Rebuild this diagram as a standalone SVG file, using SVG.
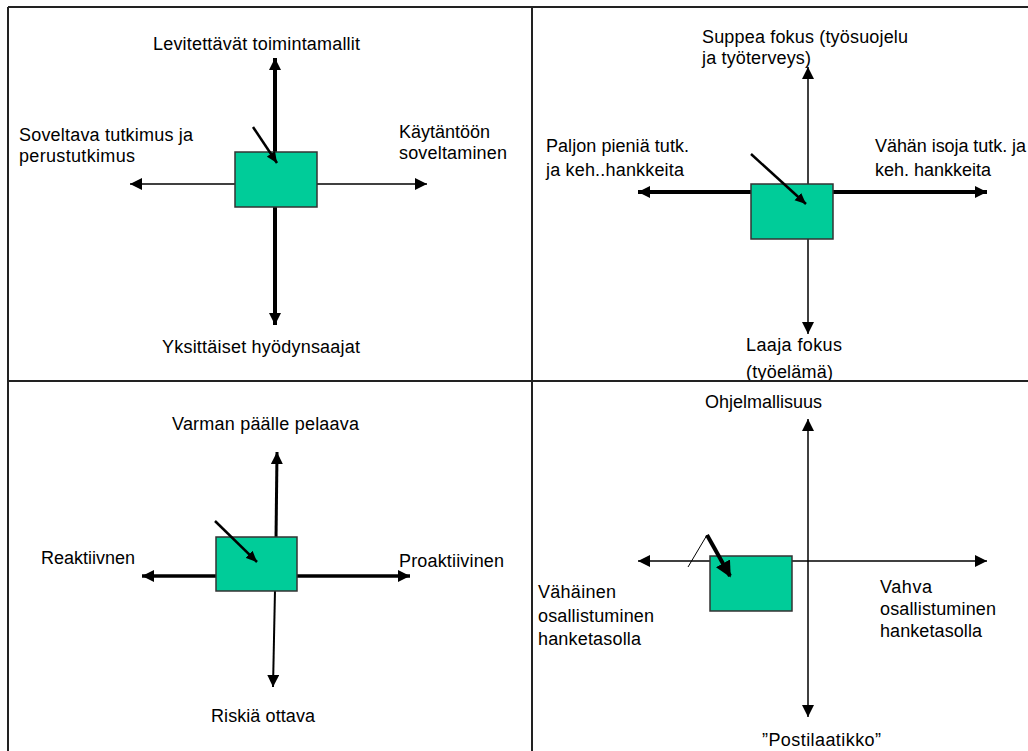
<svg xmlns="http://www.w3.org/2000/svg" width="1028" height="751" viewBox="0 0 1028 751">
<style>
.grid{stroke:#222;stroke-width:2;fill:none}
.box{fill:#00CC99;stroke:#333;stroke-width:1.5}
.thin{stroke:#000;stroke-width:1.5;fill:none}
.thick{stroke:#000;stroke-width:4;fill:none}
.mid{stroke:#000;stroke-width:2.5;fill:none}
text{font-family:"Liberation Sans",Arial,sans-serif;font-size:18px;fill:#000}
</style>
<defs>
<marker id="ah" markerUnits="userSpaceOnUse" markerWidth="12" markerHeight="12" viewBox="0 0 10 10" refX="10" refY="5" orient="auto-start-reverse">
<path d="M0,0 L10,5 L0,10 z" fill="#000"/>
</marker>
<marker id="ahs" markerUnits="userSpaceOnUse" markerWidth="11" markerHeight="11" viewBox="0 0 10 10" refX="10" refY="5" orient="auto">
<path d="M0,0.5 L10,5 L0,9.5 z" fill="#000"/>
</marker>
<marker id="ahb" markerUnits="userSpaceOnUse" markerWidth="16" markerHeight="16" viewBox="0 0 10 10" refX="9" refY="5" orient="auto">
<path d="M0,0 L10,5 L0,10 z" fill="#000"/>
</marker>
</defs>
<rect width="1028" height="751" fill="#fff"/>
<g id="grid">
<line class="grid" x1="8" y1="7" x2="1028" y2="7"/>
<line class="grid" x1="8" y1="7" x2="8" y2="751"/>
<line class="grid" x1="532" y1="7" x2="532" y2="751"/>
</g>
<g id="connectors">
<line class="thick" x1="275" y1="325" x2="275" y2="58" marker-start="url(#ah)" marker-end="url(#ah)"/>
<line class="thin" x1="130" y1="184" x2="427" y2="184" marker-start="url(#ah)" marker-end="url(#ah)"/>
<line class="thin" x1="808" y1="334" x2="808" y2="67" marker-start="url(#ah)" marker-end="url(#ah)"/>
<line class="thick" x1="638" y1="192" x2="987" y2="192" marker-start="url(#ah)" marker-end="url(#ah)"/>
<line class="mid" style="stroke-width:3" x1="276" y1="540" x2="277" y2="452" marker-end="url(#ah)"/>
<line class="mid" style="stroke-width:2" x1="275" y1="590" x2="273" y2="687" marker-end="url(#ah)"/>
<line class="thick" style="stroke-width:3.5" x1="142" y1="576" x2="410" y2="576" marker-start="url(#ah)" marker-end="url(#ah)"/>
<line class="thin" x1="808" y1="717" x2="808" y2="419" marker-start="url(#ah)" marker-end="url(#ah)"/>
<line class="thin" x1="638" y1="561" x2="987" y2="561" marker-start="url(#ah)" marker-end="url(#ah)"/>
</g>
<g id="node-q1"><rect class="box" x="235" y="152" width="82" height="55"/></g>
<g id="node-q2"><rect class="box" x="751" y="184" width="82" height="55"/></g>
<g id="node-q3"><rect class="box" x="216" y="537" width="81" height="54"/></g>
<g id="node-q4"><rect class="box" x="710" y="556" width="82" height="55"/></g>
<g id="pointers">
<line class="mid" x1="253" y1="127" x2="277" y2="163" marker-end="url(#ahs)"/>
<line class="mid" x1="751" y1="154" x2="806" y2="204" marker-end="url(#ahs)"/>
<line class="mid" x1="215" y1="521" x2="257" y2="562" marker-end="url(#ahs)"/>
<line class="thin" style="stroke-width:1" x1="688" y1="567" x2="707" y2="535"/>
<line class="thick" x1="707" y1="535" x2="730" y2="576" marker-end="url(#ahb)"/>
</g>
<g id="labels-q1">
<text x="153" y="50" textLength="207">Levitettävät toimintamallit</text>
<text x="19" y="141" textLength="174">Soveltava tutkimus ja</text>
<text x="19" y="162" textLength="116">perustutkimus</text>
<text x="399" y="138" textLength="91">Käytäntöön</text>
<text x="399" y="159" textLength="108">soveltaminen</text>
<text x="162" y="353" textLength="198">Yksittäiset hyödynsaajat</text>
</g>
<g id="labels-q2">
<text x="702" y="43" textLength="206">Suppea fokus (työsuojelu</text>
<text x="702" y="64" textLength="109">ja työterveys)</text>
<text x="546" y="152" textLength="143">Paljon pieniä tutk.</text>
<text x="546" y="176" textLength="138">ja keh..hankkeita</text>
<text x="875" y="152" textLength="151">Vähän isoja tutk. ja</text>
<text x="875" y="176" textLength="116">keh. hankkeita</text>
<text x="746" y="351" textLength="96">Laaja fokus</text>
<text x="746" y="378" textLength="87">(työelämä)</text>
</g>
<g id="grid-h"><line class="grid" x1="8" y1="381" x2="1028" y2="381"/></g>
<g id="labels-q3">
<text x="172" y="430" textLength="187">Varman päälle pelaava</text>
<text x="41" y="564" textLength="94">Reaktiivnen</text>
<text x="399" y="567" textLength="105">Proaktiivinen</text>
<text x="211" y="722" textLength="104">Riskiä ottava</text>
</g>
<g id="labels-q4">
<text x="705" y="408" textLength="117">Ohjelmallisuus</text>
<text x="538" y="598" textLength="78">Vähäinen</text>
<text x="538" y="622" textLength="116">osallistuminen</text>
<text x="538" y="645" textLength="103">hanketasolla</text>
<text x="880" y="593" textLength="52">Vahva</text>
<text x="880" y="615" textLength="116">osallistuminen</text>
<text x="880" y="637" textLength="102">hanketasolla</text>
<text x="762" y="746" textLength="119">”Postilaatikko”</text>
</g>
</svg>
